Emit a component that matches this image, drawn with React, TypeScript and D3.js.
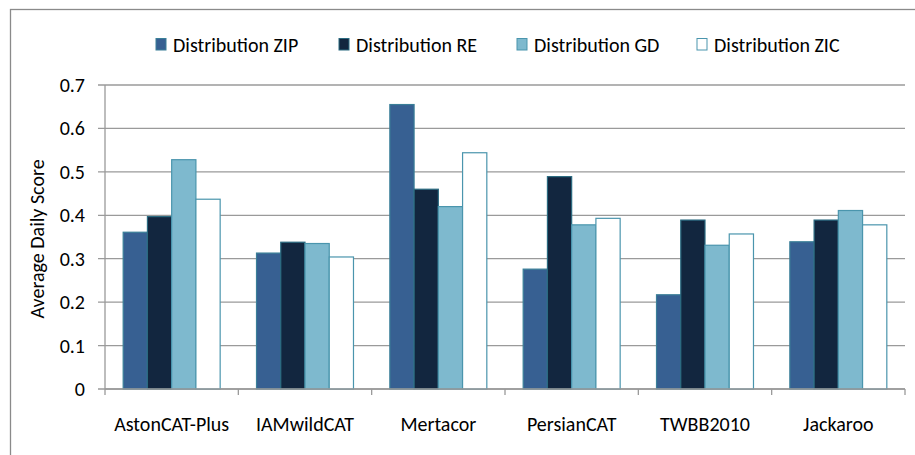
import React from "react";
import * as d3 from "d3";

const categories = ["AstonCAT-Plus", "IAMwildCAT", "Mertacor", "PersianCAT", "TWBB2010", "Jackaroo"];
const seriesNames = ["Distribution ZIP", "Distribution RE", "Distribution GD", "Distribution ZIC"];
const zipValues = [0.361, 0.313, 0.655, 0.276, 0.217, 0.339];
const reValues = [0.397, 0.338, 0.46, 0.489, 0.389, 0.389];
const gdValues = [0.528, 0.335, 0.42, 0.378, 0.331, 0.411];
const zicValues = [0.437, 0.304, 0.544, 0.393, 0.357, 0.378];
const yTicks = [0, 0.1, 0.2, 0.3, 0.4, 0.5, 0.6, 0.7];

const seriesValues = [zipValues, reValues, gdValues, zicValues];
const fills = ["#376092", "#12263f", "#7eb9ce", "#ffffff"];
const strokes = ["#3a7f98", "#2a6a80", "#4a95ad", "#4a95ad"];

const W = 915;
const H = 455;
const left = 105;
const right = 905;
const top = 85;
const bottom = 389;
const FONT = "Carlito, Calibri, 'Open Sans', sans-serif";

export default function App() {
  const x0 = d3.scaleBand().domain(categories).range([left, right]).paddingInner(0).paddingOuter(0);
  const x1 = d3
    .scaleBand()
    .domain(seriesNames)
    .range([0, x0.bandwidth()])
    .paddingInner(0)
    .paddingOuter(0.75);
  const y = d3.scaleLinear().domain([0, 0.7]).range([bottom, top]);

  const legendX = [156, 339, 517, 697];

  return (
    <svg
      width={W}
      height={H}
      style={{ position: "absolute", left: 0, top: 0, background: "#fff" }}
      fontFamily={FONT}
    >
      <rect x={0} y={0} width={W} height={H} fill="#fff" />
      <rect x={10.5} y={9.5} width={W + 10} height={H + 10} fill="none" stroke="#8a8a8a" strokeWidth={1.3} />

      {/* gridlines */}
      {yTicks.map((t) => (
        <line key={"g" + t} x1={left - 7} x2={right} y1={y(t)} y2={y(t)} stroke="#9a9a9a" strokeWidth={1.3} />
      ))}

      {/* y labels */}
      {yTicks.map((t) => (
        <text key={"yl" + t} x={85} y={y(t)} dy="0.35em" textAnchor="end" fontSize={20} fill="#000">
          {t === 0 ? "0" : d3.format(".1f")(t)}
        </text>
      ))}

      {/* bars */}
      {categories.map((c, ci) => (
        <g key={c}>
          {seriesNames.map((s, si) => {
            const v = seriesValues[si][ci];
            const bx = (x0(c) as number) + (x1(s) as number);
            return (
              <rect
                key={s}
                x={bx}
                y={y(v)}
                width={x1.bandwidth()}
                height={bottom - y(v)}
                fill={fills[si]}
                stroke={strokes[si]}
                strokeWidth={1.2}
              />
            );
          })}
        </g>
      ))}

      {/* axes */}
      <line x1={left} x2={left} y1={top} y2={bottom} stroke="#9a9a9a" strokeWidth={1.3} />
      <line x1={left} x2={right} y1={bottom} y2={bottom} stroke="#9a9a9a" strokeWidth={1.3} />
      {categories.concat(["_end"]).map((c, i) => {
        const xx = i < categories.length ? (x0(c) as number) : right;
        return <line key={"t" + i} x1={xx} x2={xx} y1={bottom} y2={bottom + 6} stroke="#9a9a9a" strokeWidth={1.3} />;
      })}

      {/* x labels */}
      {categories.map((c) => (
        <text
          key={"xl" + c}
          x={(x0(c) as number) + x0.bandwidth() / 2}
          y={424}
          dy="0.35em"
          textAnchor="middle"
          fontSize={20}
          fill="#000"
        >
          {c}
        </text>
      ))}

      {/* y title */}
      <text
        transform={`translate(37,${(top + bottom) / 2 + 2}) rotate(-90)`}
        textAnchor="middle"
        dy="0.35em"
        fontSize={20}
        fill="#000"
      >
        Average Daily Score
      </text>

      {/* legend */}
      {seriesNames.map((s, i) => (
        <g key={"lg" + s}>
          <rect x={legendX[i]} y={38.5} width={10} height={11.5} fill={fills[i]} stroke={strokes[i]} strokeWidth={1} />
          <text x={legendX[i] + 17} y={44.5} dy="0.35em" fontSize={20} fill="#000">
            {s}
          </text>
        </g>
      ))}
    </svg>
  );
}
